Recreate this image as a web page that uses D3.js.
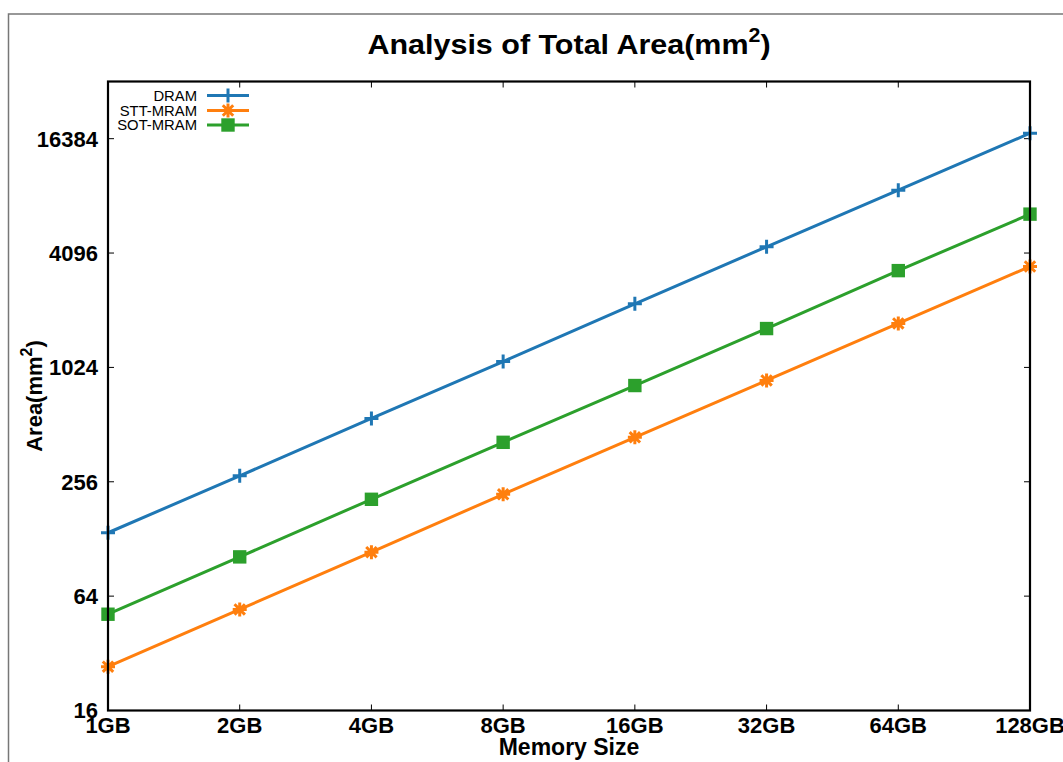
<!DOCTYPE html>
<html><head><meta charset="utf-8">
<script src="https://cdn.jsdelivr.net/npm/d3@7"></script>
<style>
html,body{margin:0;padding:0;background:#fff;overflow:hidden}
svg{display:block}
text{font-family:"Liberation Sans",Arial,Helvetica,sans-serif}
</style></head>
<body>
<script>
const categories = ["1GB","2GB","4GB","8GB","16GB","32GB","64GB","128GB"];
const dram = [138, 275, 552, 1100, 2215, 4420, 8780, 17500];
const sttMram = [27.2, 54.5, 109, 220, 439, 874, 1745, 3480];
const sotMram = [51.4, 103, 207, 413, 822, 1640, 3310, 6565];
const yTicks = [16, 64, 256, 1024, 4096, 16384];
const seriesNames = ["DRAM","STT-MRAM","SOT-MRAM"];
const seriesColors = ["#1f77b4","#ff7f0e","#2ca02c"];

const W = 1063, H = 762;
const m = {left:108, top:81.5, right:1030, bottom:710.5};
const svg = d3.select("body").append("svg").attr("width",W).attr("height",H);

// outer frame
svg.append("rect").attr("x",8.5).attr("y",14).attr("width",W+20).attr("height",H+20)
  .attr("fill","none").attr("stroke","#777").attr("stroke-width",1.5);

const x = d3.scalePoint().domain(categories).range([m.left,m.right]);
const y = d3.scaleLog().base(2).domain([16,32768]).range([m.bottom,m.top]);

const g = svg.append("g");

// ticks (inward) bottom and top
const tickLen = 6;
g.selectAll(".xt").data(categories).enter().append("line")
  .attr("x1",d=>x(d)).attr("x2",d=>x(d)).attr("y1",m.bottom).attr("y2",m.bottom-tickLen)
  .attr("stroke","#000").attr("stroke-width",1);
g.selectAll(".xt2").data(categories).enter().append("line")
  .attr("x1",d=>x(d)).attr("x2",d=>x(d)).attr("y1",m.top).attr("y2",m.top+tickLen)
  .attr("stroke","#000").attr("stroke-width",1);
g.selectAll(".yt").data(yTicks).enter().append("line")
  .attr("x1",m.left).attr("x2",m.left+tickLen).attr("y1",d=>y(d)).attr("y2",d=>y(d))
  .attr("stroke","#000").attr("stroke-width",1);
g.selectAll(".yt2").data(yTicks).enter().append("line")
  .attr("x1",m.right).attr("x2",m.right-tickLen).attr("y1",d=>y(d)).attr("y2",d=>y(d))
  .attr("stroke","#000").attr("stroke-width",1);

// tick labels
g.selectAll(".xl").data(categories).enter().append("text")
  .attr("x",d=>x(d)).attr("y",733).attr("text-anchor","middle")
  .attr("font-size",22).attr("font-weight","bold").text(d=>d);
g.selectAll(".yl").data(yTicks).enter().append("text")
  .attr("x",98).attr("y",d=>y(d)).attr("dy","0.36em").attr("text-anchor","end")
  .attr("font-size",22).attr("font-weight","bold").text(d=>d);

// series
const data = [dram, sttMram, sotMram];
const line = d3.line().x((d,i)=>x(categories[i])).y(d=>y(d));
data.forEach((s,k)=>{
  g.append("path").datum(s).attr("d",line).attr("fill","none")
    .attr("stroke",seriesColors[k]).attr("stroke-width",3);
});

function marker(sel, k, cx, cy){
  const c = seriesColors[k];
  if(k===0){
    const r=7;
    sel.append("path").attr("d",`M${cx-r},${cy}H${cx+r}M${cx},${cy-r}V${cy+r}`)
      .attr("stroke",c).attr("stroke-width",3).attr("fill","none");
  } else if(k===1){
    const r=7, d=5.2;
    sel.append("path").attr("d",`M${cx-r},${cy}H${cx+r}M${cx},${cy-r}V${cy+r}M${cx-d},${cy-d}L${cx+d},${cy+d}M${cx-d},${cy+d}L${cx+d},${cy-d}`)
      .attr("stroke",c).attr("stroke-width",3).attr("fill","none");
  } else {
    const r=6.7;
    sel.append("rect").attr("x",cx-r).attr("y",cy-r).attr("width",2*r).attr("height",2*r).attr("fill",c);
  }
}
data.forEach((s,k)=>{
  s.forEach((v,i)=>marker(g,k,x(categories[i]),y(v)));
});

// border
g.append("rect").attr("x",m.left).attr("y",m.top).attr("width",m.right-m.left).attr("height",m.bottom-m.top)
  .attr("fill","none").attr("stroke","#000").attr("stroke-width",2.2);

// legend
const legY = [95.5, 110.5, 125];
seriesNames.forEach((n,k)=>{
  g.append("text").attr("x",197).attr("y",legY[k]).attr("dy","0.36em").attr("text-anchor","end")
    .attr("font-size",14.8).text(n);
  g.append("line").attr("x1",207).attr("x2",249).attr("y1",legY[k]).attr("y2",legY[k])
    .attr("stroke",seriesColors[k]).attr("stroke-width",3);
  marker(g,k,228,legY[k]);
});

// title
const t = svg.append("text").attr("transform","translate(569,54) scale(1.07,1)").attr("text-anchor","middle")
  .attr("font-size",28.5).attr("font-weight","bold");
t.append("tspan").text("Analysis of Total Area(mm");
t.append("tspan").attr("font-size",20).attr("dy",-12).text("2");
t.append("tspan").attr("dy",12).text(")");

// axis titles
svg.append("text").attr("x",569).attr("y",755).attr("text-anchor","middle")
  .attr("font-size",23).attr("font-weight","bold").text("Memory Size");
const yt = svg.append("text").attr("transform","translate(42,396) rotate(-90)").attr("text-anchor","middle")
  .attr("font-size",22).attr("font-weight","bold");
yt.append("tspan").text("Area(mm");
yt.append("tspan").attr("font-size",16).attr("dy",-10).text("2");
yt.append("tspan").attr("dy",10).text(")");
</script>
</body></html>
